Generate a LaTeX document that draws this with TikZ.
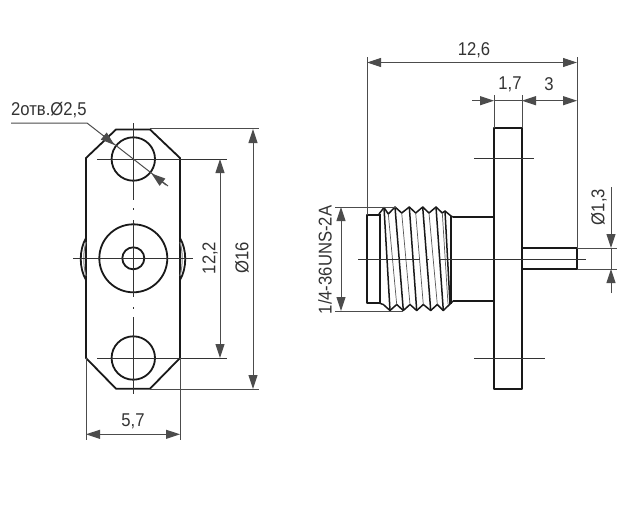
\documentclass[tikz,border=0pt]{standalone}
\usepackage{fontspec}
\setmainfont[FakeStretch=0.9]{Liberation Sans}
\usetikzlibrary{arrows.meta}
\tikzset{
  main/.style={line width=1.8pt,black!90,line join=round},
  thread/.style={line width=1.5pt,black!90,line join=round},
  thinl/.style={line width=1pt,black!70},
  center/.style={line width=0.9pt,black!80},
  threadthin/.style={line width=0.7pt,black!65},
  tip/.style={-{Triangle[length=14pt,width=9pt]}},
  dim/.style={line width=1pt,black!70,{Triangle[length=14pt,width=9pt]}-{Triangle[length=14pt,width=9pt]}},
  lab/.style={font=\fontsize{18.5}{20}\selectfont,text=black!80,inner sep=0pt},
}
\begin{document}
\begin{tikzpicture}[x=1pt,y=-1pt]
\useasboundingbox (0,0) rectangle (642,523);
\fill[white] (0,0) rectangle (642,523);

% ---- left view
\draw[main] (86,158) -- (116,129.5) -- (150,129.5) -- (180,158) -- (180,358) -- (150,388.7) -- (116,388.7) -- (86,358) -- cycle;
\draw[main] (133.3,159) circle (21.7);
\draw[main] (133.3,358) circle (21.7);
\draw[main] (133.3,258.3) circle (34);
\draw[main] (133.3,258.3) circle (11);
\draw[main] (86,238) .. controls (79,250) and (79,268) .. (86,280);
\draw[main] (180,238) .. controls (187,250) and (187,268) .. (180,280);
\draw[thinl,black!50] (86,242) .. controls (83,252) and (83,265) .. (86,276);
\draw[thinl,black!50] (180,242) .. controls (183,252) and (183,265) .. (180,276);
% centre lines
\draw[center] (133.3,123) -- (133.3,200);
\draw[center] (133.3,208) -- (133.3,210);
\draw[center] (133.3,220) -- (133.3,297);
\draw[center] (133.3,307) -- (133.3,309);
\draw[center] (133.3,317) -- (133.3,394);
\draw[center] (73,258.3) -- (193,258.3);
% extension lines
\draw[center] (97,159) -- (227,159);
\draw[center] (97,358) -- (227,358);
\draw[thinl] (150,128.7) -- (259,128.7);
\draw[thinl] (150,389) -- (259,389);
\draw[thinl] (86,358) -- (86,440);
\draw[thinl] (180,358) -- (180,440);
% dimensions
\draw[dim] (220,159) -- (220,358);
\draw[dim] (253,129) -- (253,389);
\draw[dim] (86,434.3) -- (180,434.3);
\node[lab,rotate=90] (d122) at (210,258) {12,2};
\node[lab,rotate=90] (d16) at (242,258) {Ø16};
\node[lab] (d57) at (133,421) {5,7};
% leader
\coordinate (la) at (11,123);
\coordinate (lb) at (87,123);
\coordinate (lc) at (168,186);
\draw[thinl] (la) -- (lb) -- (lc);
\draw[thinl,tip] (103,135.4) -- (114.5,145);
\draw[thinl,tip] (166,185) -- (151.5,173.5);
\node[lab,anchor=west] (hole) at (11,110) {2отв.Ø2,5};

% ---- right view
% flange
\draw[main] (494,128) rectangle (522,389);
% stub and neck
\draw[main] (380,215) -- (367,215) -- (367,303) -- (380,303);
\draw[main] (453,217) -- (494,217);
\draw[main] (453,301) -- (494,301);
% pin
\draw[main] (522,248) -- (577,248) -- (577,269) -- (522,269);
% thread
\draw[thread] (379,214) -- (384,207.5) -- (388.3,214) -- (395,207) -- (401.7,213) -- (409.3,207) -- (415.7,213) -- (422.7,207) -- (429,213) -- (436,207) -- (442.3,213) -- (445,211) -- (451,216) -- (453,217);
\draw[thread] (379,303) -- (383.3,304.5) -- (390,310.5) -- (396.7,304.5) -- (403.3,310.5) -- (410,304.5) -- (416.7,310.5) -- (423.3,304.5) -- (430.7,310.5) -- (437.3,304.5) -- (443.3,310.5) -- (450,304) -- (453,301);
\draw[thread] (380,214) -- (380,303);
\draw[thread] (384,207.5) -- (390,310.5);
\draw[thread] (395,207) -- (403.3,310.5);
\draw[thread] (409.3,207) -- (416.7,310.5);
\draw[thread] (422.7,207) -- (430.7,310.5);
\draw[thread] (436,207) -- (443.3,310.5);
\draw[thread] (451,216) -- (451,304);
\draw[thread] (445,211) -- (450,304);
\draw[threadthin] (388.3,214) -- (396.7,304.5);
\draw[threadthin] (401.7,213) -- (410,304.5);
\draw[threadthin] (415.7,213) -- (423.3,304.5);
\draw[threadthin] (429,213) -- (437.3,304.5);
\draw[threadthin] (442.3,213) -- (448,304);
% centre lines
\draw[center] (358,259) -- (420,259);
\draw[center] (427,259) -- (429,259);
\draw[center] (439,259) -- (586,259);
\draw[center] (474,158) -- (534,158);
\draw[center] (474,358) -- (545,358);
% extension lines
\draw[thinl] (367,57) -- (367,215);
\draw[thinl] (577,57) -- (577,248);
\draw[thinl] (494,95) -- (494,128);
\draw[thinl] (522,95) -- (522,128);
\draw[thinl] (335,207) -- (397,207);
\draw[thinl] (335,311) -- (403,311);
\draw[thinl] (577,248) -- (617,248);
\draw[thinl] (577,269) -- (617,269);
% dimensions
\draw[dim] (367,62.5) -- (577,62.5);
\draw[thinl,tip] (472,100.7) -- (494,100.7);
\draw[thinl] (494,100.7) -- (522,100.7);
\draw[dim] (522,100.7) -- (577,100.7);
\draw[dim] (341,207) -- (341,311);
\draw[thinl,tip] (611,187) -- (611,248);
\draw[thinl,tip] (611,293) -- (611,269);
\draw[thinl] (611,248) -- (611,269);
\node[lab] (d126) at (474,50) {12,6};
\node[lab] (d17) at (510,84) {1,7};
\node[lab] (d3) at (549,84) {3};
\node[lab,rotate=90] (d13) at (599,207) {Ø1,3};
\node[lab,rotate=90] (dthr) at (325,260) {1/4-36UNS-2A};
\end{tikzpicture}
\end{document}
